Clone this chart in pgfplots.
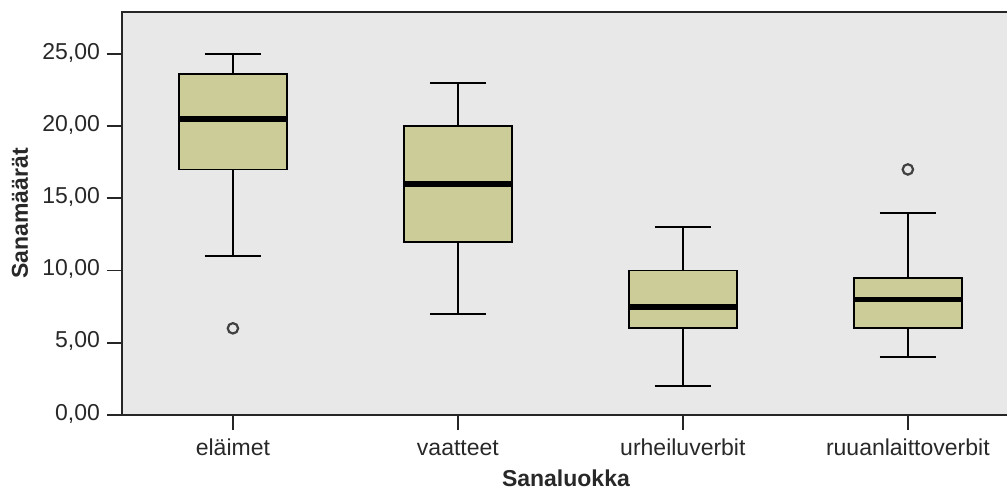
\documentclass[border=0pt]{standalone}
\usepackage{pgfplots}
\pgfplotsset{compat=1.18}
\usepgfplotslibrary{statistics}
\usepackage{fontspec}
\setmainfont{Liberation Sans}
\definecolor{boxcol}{RGB}{204,204,153}
\definecolor{bgcol}{RGB}{232,232,232}
\definecolor{txt}{RGB}{40,40,40}
\pgfplotsset{
  mybox/.style={
    boxplot prepared={#1},
    boxplot/draw direction=y,
    boxplot/box extend=0.48,
    boxplot/whisker extend=0.25,
    fill=boxcol, draw=black, line width=0.9pt,
    boxplot/every median/.style={line width=2.9pt},
    mark=o, mark size=2.6pt, mark options={draw=black!75, fill=none, line width=1.1pt},
  },
}
\begin{document}
\begin{tikzpicture}
\begin{axis}[
  scale only axis,
  width=444pt, height=201.5pt,
  xmin=-0.493, xmax=3.454,
  ymin=0, ymax=27.9,
  axis background/.style={fill=bgcol},
  axis line style={draw=black!85, line width=0.9pt},
  xtick={0,1,2,3},
  xticklabels={eläimet,vaatteet,urheiluverbit,ruuanlaittoverbit},
  ytick={0,5,10,15,20,25},
  yticklabel style={/pgf/number format/.cd,fixed,fixed zerofill,precision=2,use comma,assume math mode=true},
  ticklabel style={font=\fontsize{11.5}{13}\selectfont, text=txt},
  typeset ticklabels with strut,
  xtick pos=bottom, ytick pos=left,
  tick align=outside,
  major tick length=7.5pt,
  tick style={draw=black!85, line width=0.9pt},
  xlabel={\textbf{Sanaluokka}},
  ylabel={\textbf{Sanamäärät}},
  label style={font=\fontsize{11.5}{13}\selectfont, text=txt},
  xlabel style={at={(rel axis cs:0.5,-0.156)}, anchor=center},
  ylabel style={at={(rel axis cs:-0.115,0.5)}, anchor=center},
]
\addplot[mybox={draw position=0, lower whisker=11, lower quartile=17, median=20.5, upper quartile=23.6, upper whisker=25}] coordinates {(0,6)};
\addplot[mybox={draw position=1, lower whisker=7, lower quartile=12, median=16, upper quartile=20, upper whisker=23}] coordinates {};
\addplot[mybox={draw position=2, lower whisker=2, lower quartile=6, median=7.5, upper quartile=10, upper whisker=13}] coordinates {};
\addplot[mybox={draw position=3, lower whisker=4, lower quartile=6, median=8, upper quartile=9.5, upper whisker=14}] coordinates {(3,17)};
\coordinate (bl) at (rel axis cs:0,0);
\coordinate (tr) at (rel axis cs:1,1);
\end{axis}
\pgfresetboundingbox
\path[use as bounding box] ([xshift=-61pt,yshift=-36.5pt]bl) rectangle ([xshift=-1.5pt,yshift=6pt]tr);
\end{tikzpicture}
\end{document}
